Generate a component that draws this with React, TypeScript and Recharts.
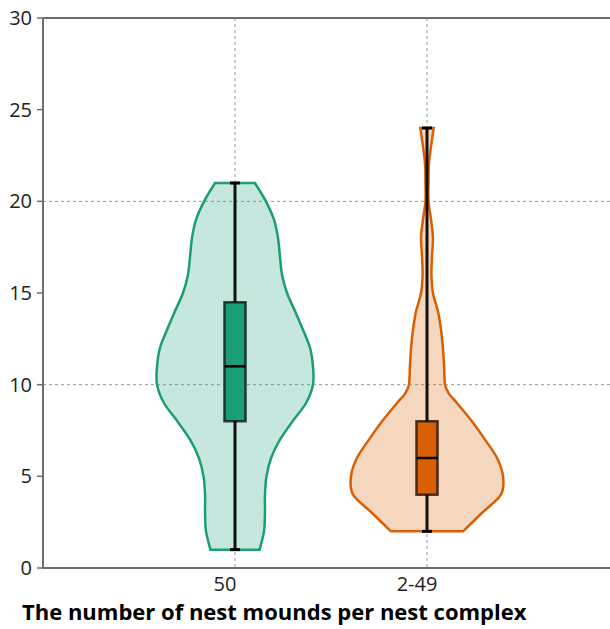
import { ComposedChart, Scatter, XAxis, YAxis, CartesianGrid, ReferenceLine } from 'recharts';

const categories = ['50', '2-49'];
const categoryPos = [1, 2];
const yTicks = [0, 5, 10, 15, 20, 25, 30];

// violin outlines: y level and half width (x-axis units)
const greenLevels = [21, 20, 19, 18, 17, 16, 15, 14, 13, 12, 11, 10, 9, 8, 7, 6, 5, 4, 3, 2, 1];
const greenHalfWidth = [
  0.104, 0.161, 0.203, 0.224, 0.234, 0.245, 0.271, 0.313, 0.354, 0.391, 0.406,
  0.406, 0.37, 0.3, 0.234, 0.188, 0.164, 0.156, 0.156, 0.151, 0.128,
];
const orangeLevels = [24, 23, 22, 21, 20, 19, 18, 17, 16, 15, 14, 13, 12, 11, 10, 9.5, 9, 8, 7, 6, 5, 4, 3, 2];
const orangeHalfWidth = [
  0.035, 0.021, 0.01, 0.008, 0.008, 0.021, 0.031, 0.026, 0.023, 0.031, 0.057, 0.073,
  0.083, 0.089, 0.094, 0.115, 0.156, 0.234, 0.302, 0.365, 0.396, 0.385, 0.286, 0.188,
];

// min, q1, median, q3, max
const greenStats = [1, 8, 11, 14.5, 21];
const orangeStats = [2, 4, 6, 8, 24];

const GREEN = '#1b9e77';
const ORANGE = '#d95f02';
const BOX_HALF = 0.055;
const CAP_HALF = 0.026;

type Pt = { x: number; y: number };

function outline(center: number, levels: number[], widths: number[]) {
  const right = levels.map((y, i) => ({ x: center + widths[i], y }));
  const left = levels.map((y, i) => ({ x: center - widths[i], y })).reverse();
  return [...right, ...left];
}

function smooth(pts: Pt[]) {
  let d = '';
  for (let i = 0; i < pts.length - 1; i++) {
    const p0 = pts[i - 1] || pts[i];
    const p1 = pts[i];
    const p2 = pts[i + 1];
    const p3 = pts[i + 2] || p2;
    const c1x = p1.x + (p2.x - p0.x) / 6;
    const c1y = p1.y + (p2.y - p0.y) / 6;
    const c2x = p2.x - (p3.x - p1.x) / 6;
    const c2y = p2.y - (p3.y - p1.y) / 6;
    d += ` C ${c1x} ${c1y} ${c2x} ${c2y} ${p2.x} ${p2.y}`;
  }
  return d;
}

const violinLine = (color: string) => (props: any) => {
  const pts: Pt[] = props.points || [];
  const n = pts.length / 2;
  const right = pts.slice(0, n);
  const left = pts.slice(n);
  if (!n) return <g />;
  const d =
    `M ${right[0].x} ${right[0].y}` + smooth(right) + ` L ${left[0].x} ${left[0].y}` + smooth(left) + ' Z';
  return <path d={d} fill={color} fillOpacity={0.25} stroke={color} strokeWidth={2.5} />;
};

const boxLine = (color: string) => (props: any) => {
  const pts: Pt[] = props.points || [];
  if (!pts.length) return <g />;
  const d = pts.map((p, i) => `${i ? 'L' : 'M'} ${p.x} ${p.y}`).join(' ') + ' Z';
  return <path d={d} fill={color} stroke="#000" strokeOpacity={0.7} strokeWidth={2.5} />;
};

const boxPts = (c: number, s: number[]) => [
  { x: c - BOX_HALF, y: s[1] },
  { x: c + BOX_HALF, y: s[1] },
  { x: c + BOX_HALF, y: s[3] },
  { x: c - BOX_HALF, y: s[3] },
];
const seg = (x1: number, y1: number, x2: number, y2: number) => [
  { x: x1, y: y1 },
  { x: x2, y: y2 },
];

const noShape = () => <g />;

const AxisTitle = (props: any) => {
  const vb = props.viewBox || { x: 43, y: 568 };
  return (
    <text x={vb.x - 21} y={vb.y + 52} fontFamily="'Open Sans', sans-serif" fontWeight={700} fontSize={22} fill="#000">
      The number of nest mounds per nest complex
    </text>
  );
};

const groups = [
  { c: categoryPos[0], color: GREEN, levels: greenLevels, widths: greenHalfWidth, stats: greenStats },
  { c: categoryPos[1], color: ORANGE, levels: orangeLevels, widths: orangeHalfWidth, stats: orangeStats },
];

export default function App() {
  const tickStyle = { fontSize: 20, fill: '#222', fontFamily: "'Open Sans', sans-serif" };
  return (
    <div style={{ position: 'fixed', left: 0, top: 0, width: 610, height: 629, overflow: 'hidden', background: '#fff' }}>
      <ComposedChart width={620} height={629} margin={{ top: 18, right: 1, left: 0, bottom: 31 }}>
        <CartesianGrid
          stroke="#999"
          strokeDasharray="3 3"
          horizontalValues={[10, 20]}
          verticalValues={categoryPos}
        />
        <XAxis
          type="number"
          dataKey="x"
          domain={[0, 3]}
          ticks={categoryPos}
          allowDataOverflow
          tickFormatter={(v: number) => categories[categoryPos.indexOf(v)] ?? ''}
          tickLine={false}
          tick={{ ...tickStyle, dx: -10 }}
          tickMargin={3}
          axisLine={{ stroke: '#6e6e6e', strokeWidth: 2 }}
          label={<AxisTitle />}
        />
        <YAxis
          type="number"
          dataKey="y"
          domain={[0, 30]}
          ticks={yTicks}
          allowDataOverflow
          width={43}
          tick={tickStyle}
          tickSize={6}
          tickMargin={5}
          tickLine={{ stroke: '#6e6e6e', strokeWidth: 1.5 }}
          axisLine={{ stroke: '#6e6e6e', strokeWidth: 2 }}
        />
        <ReferenceLine y={30} stroke="#6e6e6e" strokeWidth={2} />
        {groups.map((g) => (
          <Scatter
            key={'v' + g.c}
            data={outline(g.c, g.levels, g.widths)}
            shape={noShape}
            line={violinLine(g.color)}
            isAnimationActive={false}
          />
        ))}
        {groups.map((g) => (
          <Scatter
            key={'w' + g.c}
            data={seg(g.c, g.stats[0], g.c, g.stats[4])}
            shape={noShape}
            line={{ stroke: '#111', strokeWidth: 3 }}
            isAnimationActive={false}
          />
        ))}
        {groups.map((g) => (
          <Scatter
            key={'b' + g.c}
            data={boxPts(g.c, g.stats)}
            shape={noShape}
            line={boxLine(g.color)}
            isAnimationActive={false}
          />
        ))}
        {groups.map((g) => (
          <Scatter
            key={'m' + g.c}
            data={seg(g.c - BOX_HALF, g.stats[2], g.c + BOX_HALF, g.stats[2])}
            shape={noShape}
            line={{ stroke: '#000', strokeWidth: 2.5 }}
            isAnimationActive={false}
          />
        ))}
        {groups.map((g) => (
          <Scatter
            key={'lo' + g.c}
            data={seg(g.c - CAP_HALF, g.stats[0], g.c + CAP_HALF, g.stats[0])}
            shape={noShape}
            line={{ stroke: '#000', strokeWidth: 3 }}
            isAnimationActive={false}
          />
        ))}
        {groups.map((g) => (
          <Scatter
            key={'hi' + g.c}
            data={seg(g.c - CAP_HALF, g.stats[4], g.c + CAP_HALF, g.stats[4])}
            shape={noShape}
            line={{ stroke: '#000', strokeWidth: 3 }}
            isAnimationActive={false}
          />
        ))}
      </ComposedChart>
    </div>
  );
}
